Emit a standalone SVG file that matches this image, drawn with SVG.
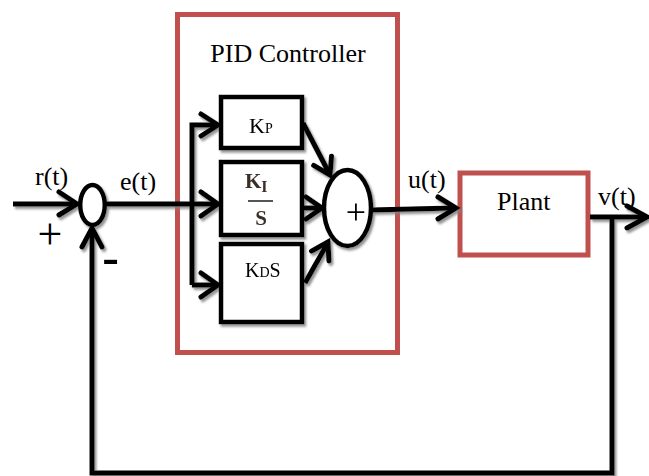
<svg xmlns="http://www.w3.org/2000/svg" width="649" height="476" viewBox="0 0 649 476" font-family="'Liberation Serif', 'Times New Roman', serif">
<style>
.t{fill:#000}
.blk{fill:#fff;stroke:#000;stroke-width:4.5}
.red{fill:#fff;stroke:#c0504d;stroke-width:5}
.ln{fill:none;stroke:#000;stroke-width:5;stroke-linejoin:miter;stroke-linecap:butt}
.hd{fill:none;stroke:#000;stroke-width:5;stroke-linejoin:miter;stroke-linecap:round}
</style>
<defs>
<filter id="sh" filterUnits="userSpaceOnUse" x="0" y="0" width="649" height="476">
<feDropShadow dx="2" dy="2.5" stdDeviation="0.8" flood-color="#808080" flood-opacity="0.85"/>
</filter>
</defs>
<rect width="649" height="476" fill="#fff"/>

<g id="pid-controller">
<rect class="red" x="177.5" y="14.5" width="220" height="338"/>
<text class="t" x="288" y="62" font-size="26" text-anchor="middle">PID Controller</text>
</g>

<g id="plant">
<rect class="red" x="460" y="173" width="128" height="82"/>
<text class="t" x="497" y="210" font-size="26">Plant</text>
</g>

<g filter="url(#sh)">
<g id="connectors">
<path class="ln" d="M13,204 H76"/>
<path class="hd" d="M59,192 L77,204 L59,215"/>
<path class="ln" d="M106,204 H216"/>
<path class="hd" d="M201,192 L218,204 L201,216"/>
<path class="ln" d="M192,285 V125 H216"/>
<path class="hd" d="M201,114 L218,125 L201,136"/>
<path class="ln" d="M192,285 H216"/>
<path class="hd" d="M201,273 L218,285 L201,297"/>
<path class="ln" d="M303,123 L328,171"/>
<path class="hd" d="M313.7,165.4 L330,175 L331.5,156.2"/>
<path class="ln" d="M300,208 H319"/>
<circle cx="300" cy="208" r="3" fill="#000"/>
<path class="hd" d="M306,197 L322,208 L306,219"/>
<path class="ln" d="M305,283 L326,246"/>
<path class="hd" d="M311.5,251.1 L328,242 L328.9,260.9"/>
<path class="ln" d="M371,210 L454,208"/>
<path class="hd" d="M438,197 L456,208 L438,219"/>
<path class="ln" d="M590,217 H645"/>
<path class="hd" d="M627,206 L647,217 L627,228"/>
<path class="ln" d="M612,217 V473 H92 V230"/>
<path class="hd" d="M82,247 L92,228 L102,247"/>
</g>

<g id="junction">
<ellipse cx="92.5" cy="205" rx="12.3" ry="20" fill="#fff" stroke="#000" stroke-width="4.5"/>
</g>

<g id="kp">
<rect class="blk" x="221" y="97" width="81" height="51"/>
<text class="t" x="249" y="133" font-size="22">K<tspan font-size="14">P</tspan></text>
</g>

<g id="ki">
<rect class="blk" x="221" y="162" width="81" height="73"/>
<text x="245" y="188" font-weight="bold" font-size="21" fill="#3a2f28">K<tspan font-size="16" dy="4">I</tspan></text>
<line x1="248" y1="201" x2="273" y2="201" stroke="#2a2a2a" stroke-width="1.6"/>
<text x="261" y="225" font-weight="bold" font-size="21" fill="#3a2f28" text-anchor="middle">S</text>
</g>

<g id="kd">
<rect class="blk" x="221" y="244" width="81" height="78"/>
<text class="t" x="245" y="277" font-size="20">K<tspan font-size="14">D</tspan>S</text>
</g>

<g id="sum">
<ellipse cx="347.5" cy="208" rx="23.5" ry="38" fill="#fff" stroke="#000" stroke-width="4.5"/>
<text class="t" x="356" y="223.5" font-size="36" text-anchor="middle">+</text>
</g>
</g>

<g id="labels">
<text class="t" x="35" y="185" font-size="26">r(t)</text>
<text class="t" x="120" y="190" font-size="26">e(t)</text>
<text class="t" x="408" y="188" font-size="26">u(t)</text>
<text class="t" x="598" y="205" font-size="26">v(t)</text>
<text class="t" x="50" y="249" font-size="44" text-anchor="middle">+</text>
<text x="110.5" y="276" font-family="'Liberation Sans', Arial, sans-serif" font-size="53" text-anchor="middle">-</text>
</g>
</svg>
